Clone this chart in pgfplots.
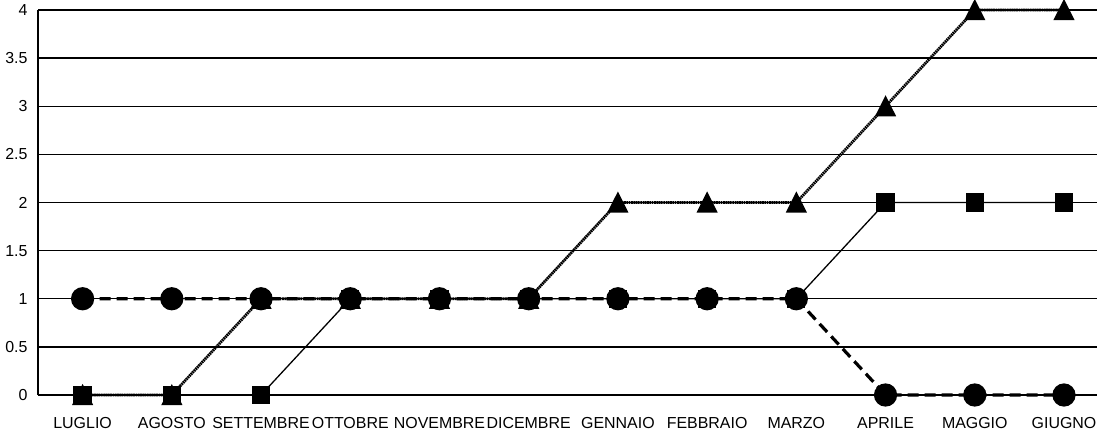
\documentclass[border=0pt]{standalone}
\usepackage{fontspec}
\setmainfont{Liberation Sans}
\usepackage{pgfplots}
\pgfplotsset{compat=1.18}
\begin{document}
\fontsize{16}{19}\selectfont
\begin{tikzpicture}[x=1bp,y=1bp]
\begin{axis}[
  scale only axis,
  width=1059bp, height=385bp,
  xmin=-0.5, xmax=11.37,
  ymin=0, ymax=4,
  axis x line=bottom, axis y line=left,
  axis line style={line width=2bp,-},
  xtick={0,...,11},
  xticklabels={LUGLIO,AGOSTO,SETTEMBRE,OTTOBRE,NOVEMBRE,DICEMBRE,GENNAIO,FEBBRAIO,MARZO,APRILE,MAGGIO,GIUGNO},
  ytick={0,0.5,...,4},
  yticklabels={0,0.5,1,1.5,2,2.5,3,3.5,4},
  major tick length=0pt,
  ymajorgrids,
  grid style={black, line width=1.3bp},
  tick label style={font=\fontsize{16}{19}\selectfont},
  xticklabel style={yshift=-17bp},
  yticklabel style={xshift=-5bp},
  /pgf/number format/assume math mode=true,
  clip=false,
]
\addplot[black, line width=2.8bp, dash pattern=on 1.7bp off 0.6bp, mark=triangle*, mark size=9.6bp, mark options={solid, fill=black, yscale=1.15, yshift=-2.7bp}]
  coordinates {(0,0) (1,0) (2,1) (3,1) (4,1) (5,1) (6,2) (7,2) (8,2) (9,3) (10,4) (11,4)};
\addplot[black, line width=3.2bp, dash pattern=on 11bp off 6bp, mark=*, mark size=10bp, mark options={solid, fill=black}]
  coordinates {(0,1) (1,1) (2,1) (3,1) (4,1) (5,1) (6,1) (7,1) (8,1) (9,0) (10,0) (11,0)};
\addplot[black, line width=1.3bp, mark=square*, mark size=8.5bp, mark options={solid, fill=black}]
  coordinates {(0,0) (1,0) (2,0) (3,1) (4,1) (5,1) (6,1) (7,1) (8,1) (9,2) (10,2) (11,2)};
\end{axis}
\pgfresetboundingbox
\path[use as bounding box] (-38bp,-40bp) rectangle (1059bp,395bp);
\end{tikzpicture}
\end{document}
